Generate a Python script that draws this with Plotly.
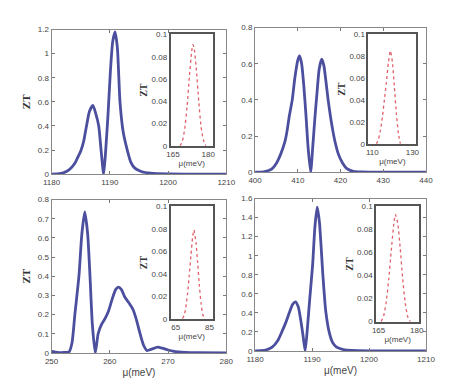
import plotly.graph_objects as go

# ---------------- data ----------------
tl_x = [1180, 1181, 1182, 1183, 1184, 1184.5, 1185, 1185.5, 1186, 1186.5, 1187.1, 1187.6, 1188.1, 1188.5,
        1188.95, 1189.3, 1189.7, 1190.1, 1190.5, 1190.9, 1191.3, 1191.75, 1192.3, 1193, 1193.6, 1194.3,
        1195.5, 1197, 1200, 1210]
tl_y = [0, 0.002, 0.01, 0.035, 0.09, 0.14, 0.19, 0.27, 0.40, 0.52, 0.57, 0.50, 0.40, 0.2,
        0.0, 0.2, 0.5, 0.85, 1.10, 1.18, 1.05, 0.6, 0.35, 0.2, 0.10, 0.05,
        0.02, 0.008, 0.002, 0]

tr_x = [400, 402, 403, 404, 405, 406, 407, 407.5, 408, 408.7, 409.3, 410, 410.4, 410.9, 411.4, 411.9, 412.4,
        413, 413.5, 414, 414.5, 415, 415.6, 416.1, 416.6, 417.1, 417.7, 418.2, 418.7, 419.5, 420.5, 421.5,
        423, 425, 440]
tr_y = [0, 0.002, 0.008, 0.02, 0.05, 0.10, 0.17, 0.23, 0.31, 0.40, 0.52, 0.62, 0.643, 0.60, 0.48, 0.32, 0.14,
        0, 0.14, 0.30, 0.44, 0.57, 0.625, 0.59, 0.50, 0.40, 0.30, 0.23, 0.17, 0.10, 0.05, 0.02,
        0.005, 0.001, 0]

bl_x = [250, 251, 252, 253, 253.5, 254, 254.7, 255.2, 255.7, 256.2, 256.6, 257, 257.5, 258, 258.6, 259.2,
        259.8, 260.4, 261, 261.5, 262, 262.6, 263.3, 264, 264.6, 265.2, 265.8, 266.4, 267.2, 268.2, 269,
        270, 271, 273, 275, 280]
bl_y = [0.008, 0.003, 0.002, 0.005, 0.05, 0.2, 0.4, 0.62, 0.735, 0.62, 0.4, 0.15, 0.0, 0.1, 0.15, 0.18,
        0.22, 0.28, 0.33, 0.343, 0.33, 0.29, 0.26, 0.225, 0.17, 0.10, 0.04, 0.012, 0.02, 0.03, 0.025,
        0.015, 0.008, 0.003, 0.001, 0]

br_x = [1180, 1181, 1182, 1183, 1184, 1184.7, 1185.4, 1186, 1186.6, 1187.1, 1187.6, 1188, 1188.4, 1188.8,
        1189.2, 1189.6, 1190.1, 1190.5, 1190.9, 1191.3, 1191.9, 1192.4, 1193, 1193.6, 1194.3, 1195.5,
        1197, 1200, 1210]
br_y = [0, 0.003, 0.012, 0.04, 0.11, 0.2, 0.3, 0.40, 0.49, 0.516, 0.46, 0.33, 0.17, 0.0,
        0.25, 0.55, 0.9, 1.3, 1.51, 1.35, 0.8, 0.42, 0.2, 0.09, 0.04, 0.015,
        0.005, 0.001, 0]

in1_x = [168, 169, 170, 171, 172, 173, 173.5, 174, 175, 176, 177, 178, 179]
in1_y = [0, 0.004, 0.015, 0.035, 0.062, 0.085, 0.091, 0.088, 0.068, 0.04, 0.017, 0.005, 0]

in2_x = [112, 113, 114, 115, 116, 117, 118, 119, 120, 121, 122, 123, 124]
in2_y = [0, 0.004, 0.012, 0.024, 0.04, 0.056, 0.074, 0.085, 0.075, 0.052, 0.028, 0.01, 0]

in3_x = [69, 70, 71, 72, 73, 74, 75, 75.8, 77, 78, 79, 80, 81, 82]
in3_y = [0, 0.003, 0.01, 0.022, 0.038, 0.056, 0.072, 0.079, 0.068, 0.05, 0.03, 0.014, 0.004, 0]

in4_x = [166, 167, 168, 169, 170, 171, 171.6, 172.5, 173.5, 174.5, 175.5, 176.5, 177.5]
in4_y = [0, 0.005, 0.017, 0.037, 0.062, 0.085, 0.093, 0.086, 0.064, 0.037, 0.016, 0.004, 0]

main_xticks = [[1180, 1190, 1200, 1210], [400, 410, 420, 430, 440], [250, 260, 270, 280], [1180, 1190, 1200, 1210]]
main_yticks = [[0, 0.2, 0.4, 0.6, 0.8, 1, 1.2], [0, 0.2, 0.4, 0.6, 0.8],
               [0, 0.1, 0.2, 0.3, 0.4, 0.5, 0.6, 0.7, 0.8], [0, 0.2, 0.4, 0.6, 0.8, 1, 1.2, 1.4, 1.6]]
inset_xticks = [[165, 180], [110, 130], [65, 85], [165, 180]]
inset_yticks = [0, 0.02, 0.04, 0.06, 0.08, 0.1]

# ---------------- layout ----------------
W, H = 450, 388
def dx(a, b): return [a / W, b / W]
def dy(top, bot): return [1 - bot / H, 1 - top / H]

main_dom = [(dx(36, 218), dy(18, 166)), (dx(248, 426), dy(16, 164)),
            (dx(36, 218), dy(192, 349)), (dx(248, 426), dy(191, 347))]
main_xr = [[1180, 1210], [400, 440], [250, 280], [1180, 1210]]
main_yr = [[0, 1.2], [0, 0.8], [0, 0.8], [0, 1.6]]
inset_dom = [(dx(160, 204), dy(23, 137)), (dx(366, 416), dy(23, 135)),
             (dx(160, 204), dy(199, 314)), (dx(374, 419), dy(199, 317))]
inset_xr = [[164, 182], [108, 132], [62, 87], [164, 181]]

main_data = [(tl_x, tl_y), (tr_x, tr_y), (bl_x, bl_y), (br_x, br_y)]
inset_data = [(in1_x, in1_y), (in2_x, in2_y), (in3_x, in3_y), (in4_x, in4_y)]

fig = go.Figure()
tickfont = dict(family="Liberation Sans, Arial", size=8, color="#444")
ztfont_main = dict(family="Liberation Serif", size=11, color="#333")
layout = dict(width=W, height=H, margin=dict(l=0, r=0, t=0, b=0),
              paper_bgcolor="white", plot_bgcolor="white", showlegend=False)

for i in range(4):
    n = i + 1
    xa = "x" if n == 1 else f"x{n}"
    ya = "y" if n == 1 else f"y{n}"
    fig.add_trace(go.Scatter(x=main_data[i][0], y=main_data[i][1], mode="lines",
                             line=dict(color="#4b4f9e", width=2.8, shape="spline", smoothing=0.6),
                             xaxis=xa, yaxis=ya, cliponaxis=True))
    xkey = "xaxis" if n == 1 else f"xaxis{n}"
    ykey = "yaxis" if n == 1 else f"yaxis{n}"
    layout[xkey] = dict(domain=main_dom[i][0], range=main_xr[i], anchor=ya,
                        tickvals=main_xticks[i], ticks="inside", ticklen=3, tickcolor="#777",
                        showline=True, linecolor="#888", linewidth=1, mirror="ticks",
                        showgrid=False, zeroline=False, tickfont=tickfont)
    layout[ykey] = dict(domain=main_dom[i][1], range=main_yr[i], anchor=xa,
                        tickvals=main_yticks[i], ticks="inside", ticklen=3, tickcolor="#777",
                        showline=True, linecolor="#888", linewidth=1, mirror="ticks",
                        showgrid=False, zeroline=False, tickfont=tickfont)
    if i in (0, 2):
        layout[ykey]["title"] = dict(text="<b>ZT</b>", font=ztfont_main, standoff=4)
    if i in (2, 3):
        layout[xkey]["title"] = dict(text="μ(meV)", font=dict(family="Liberation Sans, Arial", size=10, color="#444"),
                                     standoff=4)

for i in range(4):
    n = i + 5
    xa, ya = f"x{n}", f"y{n}"
    fig.add_trace(go.Scatter(x=inset_data[i][0], y=inset_data[i][1], mode="lines",
                             line=dict(color="#e0606a", width=1.3, dash="dot", shape="spline", smoothing=0.6),
                             xaxis=xa, yaxis=ya))
    layout[f"xaxis{n}"] = dict(domain=inset_dom[i][0], range=inset_xr[i], anchor=ya,
                               tickvals=inset_xticks[i], ticks="", showline=True, linecolor="#555",
                               linewidth=1.6, mirror=True, showgrid=False, zeroline=False,
                               tickfont=tickfont,
                               title=dict(text="μ(meV)", font=dict(family="Liberation Sans, Arial", size=8, color="#444"),
                                          standoff=2))
    layout[f"yaxis{n}"] = dict(domain=inset_dom[i][1], range=[0, 0.1], anchor=xa,
                               tickvals=inset_yticks, ticks="", showline=True, linecolor="#555",
                               linewidth=1.6, mirror=True, showgrid=False, zeroline=False,
                               tickfont=tickfont,
                               title=dict(text="<b>ZT</b>", font=dict(family="Liberation Serif", size=10, color="#333"),
                                          standoff=2))

fig.update_layout(**layout)
fig.write_html("out.html")
